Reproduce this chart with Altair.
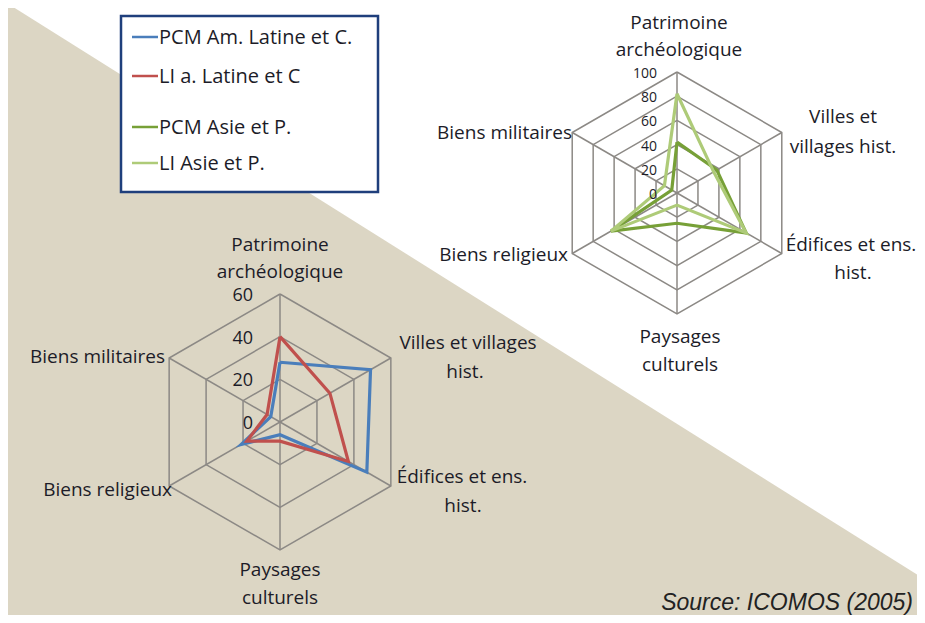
import math
import altair as alt
import pandas as pd

# ---------------- data ----------------
categories = [
    "Patrimoine archéologique",
    "Villes et villages hist.",
    "Édifices et ens. hist.",
    "Paysages culturels",
    "Biens religieux",
    "Biens militaires",
]
series_names = ["PCM Am. Latine et C.", "LI a. Latine et C", "PCM Asie et P.", "LI Asie et P."]
pcm_am_latine = [28, 49, 47, 6, 21, 5]
li_am_latine = [40, 27, 37, 9, 18, 7]
pcm_asie = [42, 38, 66, 25, 63, 5]
li_asie = [82, 35, 66, 10, 63, 12]
left_ticks = [0, 20, 40, 60]
right_ticks = [0, 20, 40, 60, 80, 100]
source_text = "Source: ICOMOS (2005)"

# ---------------- layout / style ----------------
BEIGE = "#dcd6c4"
GRID = "#8c8985"
COLORS = ["#4a7ebb", "#c0504d", "#77a037", "#aecb78"]
TXT = "#1c1c28"
FONT = "Open Sans"

# radar geometry (page pixel coordinates)
LEFT = dict(cx=280, cy=422, R=128, vmax=60, ticks=left_ticks)
RIGHT = dict(cx=677, cy=193, R=121, vmax=100, ticks=right_ticks)


def pt(radar, i, v):
    a = math.radians(60 * i)
    r = radar["R"] * v / radar["vmax"]
    return radar["cx"] + r * math.sin(a), radar["cy"] - r * math.cos(a)


# grid rings
ring_rows = []
spoke_rows = []
for name, rd in (("L", LEFT), ("R", RIGHT)):
    for t in rd["ticks"][1:]:
        for k in range(7):
            x, y = pt(rd, k % 6, t)
            ring_rows.append(dict(ring=f"{name}{t}", k=k, x=x, y=y))
    for i in range(6):
        x2, y2 = pt(rd, i, rd["vmax"])
        spoke_rows.append(dict(x=rd["cx"], y=rd["cy"], x2=x2, y2=y2))
rings = pd.DataFrame(ring_rows)
spokes = pd.DataFrame(spoke_rows)

# series polygons
ser_rows = []
for sname, vals, rd in (
    (series_names[0], pcm_am_latine, LEFT),
    (series_names[1], li_am_latine, LEFT),
    (series_names[2], pcm_asie, RIGHT),
    (series_names[3], li_asie, RIGHT),
):
    for k in range(7):
        x, y = pt(rd, k % 6, vals[k % 6])
        ser_rows.append(dict(series=sname, k=k, x=x, y=y))
ser = pd.DataFrame(ser_rows)

# tick labels
tick_rows = []
for rd, dx, fs in ((LEFT, -27, 18), (RIGHT, -20, 14)):
    for t in rd["ticks"]:
        x, y = pt(rd, 0, t)
        tick_rows.append(dict(x=x + dx, y=y + 2, label=str(t), fs=fs))
ticks_df = pd.DataFrame(tick_rows)

# category labels: split into lines, offsets relative to radar centre
label_lines = [
    ["Patrimoine", "archéologique"],
    ["Villes et villages", "hist."],
    ["Édifices et ens.", "hist."],
    ["Paysages", "culturels"],
    ["Biens religieux"],
    ["Biens militaires"],
]
right_label_lines = [
    ["Patrimoine", "archéologique"],
    ["Villes et", "villages hist."],
    ["Édifices et ens.", "hist."],
    ["Paysages", "culturels"],
    ["Biens religieux"],
    ["Biens militaires"],
]
left_off = [[(0, -177), (0, -150)], [(188, -79), (185, -50)], [(182, 55), (183, 84)],
            [(0, 148), (0, 176)], [(-108, 68)], [(-115, -65)]]
right_off = [[(2, -170), (2, -143)], [(166, -76), (166, -46)], [(174, 52), (176, 80)],
             [(3, 144), (3, 172)], [(-109, 62)], [(-105, -60)]]
center_rows, right_rows = [], []
for rd, lines, offs in ((LEFT, label_lines, left_off), (RIGHT, right_label_lines, right_off)):
    for i in range(6):
        for txt, (dx, dy) in zip(lines[i], offs[i]):
            row = dict(x=rd["cx"] + dx, y=rd["cy"] + dy, label=txt)
            (right_rows if i >= 4 else center_rows).append(row)
cat_center = pd.DataFrame(center_rows)
cat_right = pd.DataFrame(right_rows)

# legend
leg_top, leg_step = 37, [0, 39, 90, 126]
leg_lines = pd.DataFrame(dict(series=series_names,
                              x=[132] * 4, x2=[158] * 4,
                              y=[leg_top + s for s in leg_step]))
leg_text = pd.DataFrame(dict(label=series_names, x=[159] * 4,
                             y=[leg_top + s + 1 for s in leg_step]))
leg_box = pd.DataFrame(dict(x=[121], x2=[378], y=[16], y2=[192]))

# background diagonal
bg = pd.DataFrame(dict(x=[8, 917], y=[5 + 0.628 * (8 - 10), 5 + 0.628 * (917 - 10)], y2=[615, 615]))
src = pd.DataFrame(dict(x=[913], y=[603], label=[source_text]))

xs = alt.Scale(domain=[8, 917], nice=False, zero=False)
ys = alt.Scale(domain=[8, 615], nice=False, zero=False, reverse=True)
X = lambda f="x": alt.X(f"{f}:Q", scale=xs, axis=None)
Y = lambda f="y": alt.Y(f"{f}:Q", scale=ys, axis=None)
color = alt.Color("series:N", scale=alt.Scale(domain=series_names, range=COLORS), legend=None)

layers = [
    alt.Chart(bg).mark_area(color=BEIGE, clip=True).encode(x=X(), y=Y(), y2="y2:Q"),
    alt.Chart(leg_box).mark_rect(fill="white", stroke="#1f3f7c", strokeWidth=2.5).encode(
        x=X(), x2="x2:Q", y=Y(), y2="y2:Q"),
    alt.Chart(rings).mark_line(color=GRID, strokeWidth=1.5).encode(
        x=X(), y=Y(), detail="ring:N", order=alt.Order("k:Q")),
    alt.Chart(spokes).mark_rule(color=GRID, strokeWidth=1.5).encode(
        x=X(), y=Y(), x2="x2:Q", y2="y2:Q"),
    alt.Chart(ser).mark_line(strokeWidth=3.2, strokeJoin="miter").encode(
        x=X(), y=Y(), color=color, detail="series:N", order=alt.Order("k:Q")),
    alt.Chart(ticks_df[ticks_df.fs == 18]).mark_text(align="right", baseline="middle", font=FONT,
                                                     fontSize=18, color=TXT).encode(
        x=X(), y=Y(), text="label:N"),
    alt.Chart(ticks_df[ticks_df.fs == 14]).mark_text(align="right", baseline="middle", font=FONT,
                                                     fontSize=14, color=TXT).encode(
        x=X(), y=Y(), text="label:N"),
    alt.Chart(cat_center).mark_text(align="center", baseline="middle", font=FONT,
                                    fontSize=19, color=TXT).encode(x=X(), y=Y(), text="label:N"),
    alt.Chart(cat_right).mark_text(align="right", baseline="middle", font=FONT,
                                   fontSize=19, color=TXT).encode(x=X(), y=Y(), text="label:N"),
    alt.Chart(leg_lines).mark_rule(strokeWidth=2.5).encode(
        x=X(), x2="x2:Q", y=Y(), color=color),
    alt.Chart(leg_text).mark_text(align="left", baseline="middle", font=FONT,
                                  fontSize=20, color=TXT).encode(x=X(), y=Y(), text="label:N"),
    alt.Chart(src).mark_text(align="right", baseline="middle", font="Liberation Sans",
                             fontStyle="italic", fontSize=23, color="#222222").encode(
        x=X(), y=Y(), text="label:N"),
]

chart = alt.layer(*layers).properties(
    width=909, height=607, autosize="none", padding=0, background="white"
).configure_view(stroke=None)

chart.save("out.html", embed_options={"renderer": "svg", "actions": False})
